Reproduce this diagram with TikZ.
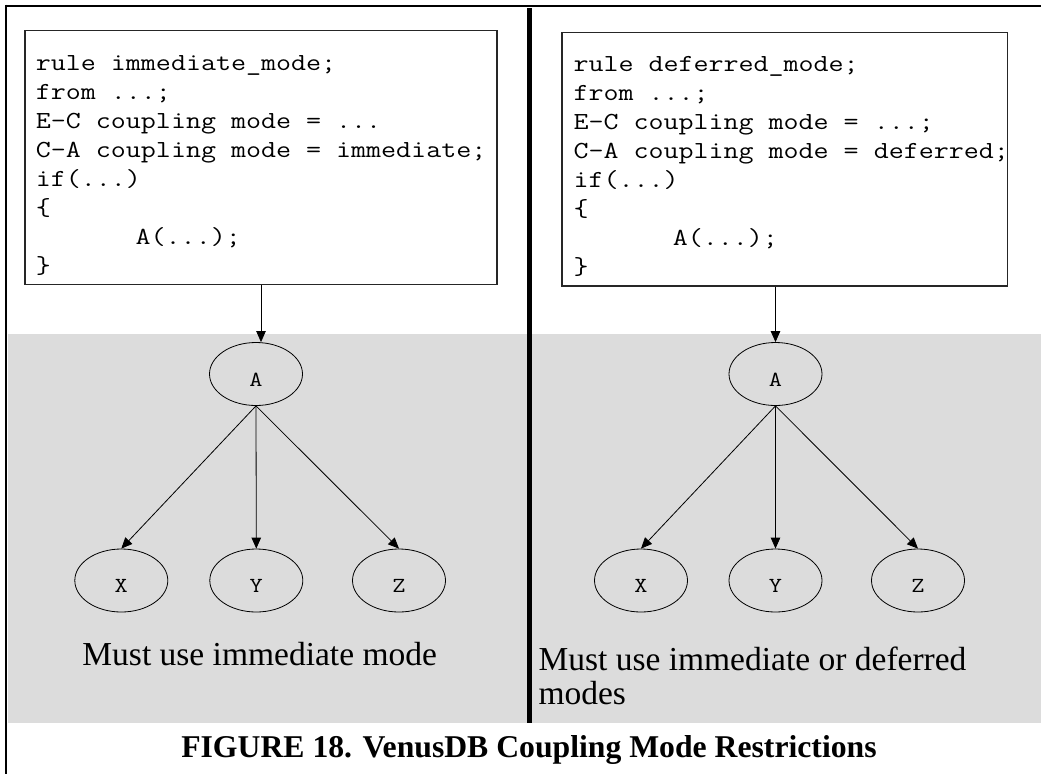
\documentclass[tikz,border=0pt]{standalone}
\usepackage{fontspec}
\setmainfont{Liberation Serif}
\setmonofont{Latin Modern Mono}[FakeStretch=1.19]
\usetikzlibrary{shapes.geometric,arrows.meta}
\definecolor{graybg}{HTML}{DCDCDC}
\begin{document}
\begin{tikzpicture}[x=1pt,y=-1pt,
  codebox/.style={draw=black!85, line width=1.1pt, inner sep=0pt},
  codeline/.style={font=\fontsize{24.5}{29}\ttfamily, anchor=base west, inner sep=0pt},
  ell/.style={ellipse, draw, line width=0.8pt, minimum width=93pt, minimum height=63pt, inner sep=0pt, font=\fontsize{21.5}{21.5}\ttfamily, text height=24pt, text depth=0pt},
  arr/.style={-{Triangle[length=11pt,width=9.5pt]}, line width=0.8pt},
  capt/.style={font=\fontsize{33.5}{33.3}\selectfont, inner sep=0pt},
  titl/.style={font=\fontsize{31.7}{31.7}\selectfont\bfseries, inner sep=0pt}]
\useasboundingbox (0,0) rectangle (1041,774);
\fill[graybg] (8,334) rectangle (1041,723);
\draw[line width=2pt] (5,5.5) -- (1041,5.5);
\draw[line width=2pt] (6,4.5) -- (6,774);
\draw[line width=5pt] (529.5,8) -- (529.5,723);
% left code box
\node[codebox, minimum width=472pt, minimum height=253.6pt] (lbox) at (261,157.5) {};
\node[codeline] (l1) at (35.7,70) {rule immediate\_mode;};
\node[codeline] (l2) at (35.7,99) {from ...;};
\node[codeline] (l3) at (35.7,128) {E-C coupling mode = ...};
\node[codeline] (l4) at (35.7,157) {C-A coupling mode = immediate;};
\node[codeline] (l5) at (35.7,186) {if(...)};
\node[codeline] (l6) at (35.7,215) {\{};
\node[codeline] (l7) at (135.5,244) {A(...);};
\node[codeline] (l8) at (35.7,273) {\}};
% right code box
\node[codebox, minimum width=445.7pt, minimum height=253.7pt] (rbox) at (784.85,159.15) {};
\node[codeline] (r1) at (573.3,71.7) {rule deferred\_mode;};
\node[codeline] (r2) at (573.3,100.7) {from ...;};
\node[codeline] (r3) at (573.3,129.7) {E-C coupling mode = ...;};
\node[codeline] (r4) at (573.3,158.7) {C-A coupling mode = deferred;};
\node[codeline] (r5) at (573.3,187.7) {if(...)};
\node[codeline] (r6) at (573.3,216.7) {\{};
\node[codeline] (r7) at (672.7,245.7) {A(...);};
\node[codeline] (r8) at (573.3,274.7) {\}};
% left graph
\node[ell] (la) at (256,374) {A};
\node[ell] (lx) at (121.3,580.5) {X};
\node[ell] (ly) at (256.3,580.5) {Y};
\node[ell] (lz) at (399,580.5) {Z};
\draw[arr] (lbox.south) -- (lbox.south |- la.north);
\draw[arr] (la.south) -- (lx.north);
\draw[arr] (la.south) -- (ly.north);
\draw[arr] (la.south) -- (lz.north);
% right graph
\node[ell] (ra) at (775.5,374) {A};
\node[ell] (rx) at (641,580.5) {X};
\node[ell] (ry) at (775.5,580.5) {Y};
\node[ell] (rz) at (918,580.5) {Z};
\draw[arr] (ra.north |- rbox.south) -- (ra.north);
\draw[arr] (ra.south) -- (rx.north);
\draw[arr] (ra.south) -- (ry.north);
\draw[arr] (ra.south) -- (rz.north);
% captions
\node[capt, anchor=base] (lcap) at (259.7,665) {Must use immediate mode};
\node[capt, anchor=north west, align=left] (rcap) at (538.3,647.1) {Must use immediate or deferred\\modes};
\node[titl, anchor=base] (title) at (529,757.5) {FIGURE 18. VenusDB Coupling Mode Restrictions};
\end{tikzpicture}
\end{document}
